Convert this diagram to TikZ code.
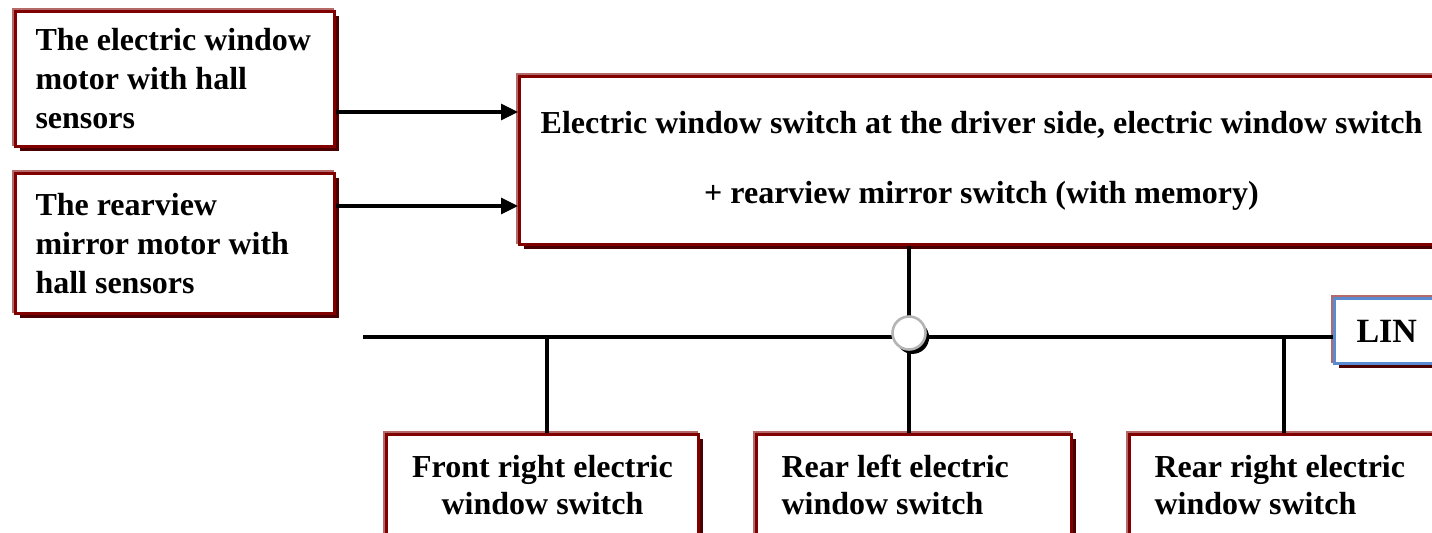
\documentclass[tikz,border=0pt]{standalone}
\usepackage{fontspec}
\setmainfont{Liberation Serif}
\usetikzlibrary{arrows.meta,positioning,calc,shadows}
\definecolor{BoxRed}{HTML}{800000}
\definecolor{EdgeRed}{HTML}{B56A6A}
\definecolor{ShadeRed}{HTML}{4A0000}
\definecolor{LinBlue}{HTML}{5A8AD0}
\definecolor{HubGray}{HTML}{B4B4B4}

\begin{document}
\begin{tikzpicture}[x=0.5pt,y=-0.5pt,
 every node/.style={font=\bfseries\fontsize{16pt}{19.5pt}\selectfont},
 unit/.style={draw=BoxRed,line width=1.5pt,fill=white,inner sep=0pt,anchor=north west,
  general shadow={draw=EdgeRed,fill=none,line width=1.5pt,shadow xshift=-0.9pt,shadow yshift=0.9pt},
  general shadow={fill=ShadeRed,shadow xshift=2pt,shadow yshift=-2pt}},
 wire/.style={line width=1.8pt},
 feed/.style={line width=1.6pt,-{Triangle[length=8.5pt,width=8pt]}},
 hubdot/.style={circle,draw=HubGray,line width=1.3pt,fill=white,minimum size=16.5pt,inner sep=0pt,
  general shadow={fill=black,shadow xshift=1.8pt,shadow yshift=-2.2pt}}]
\useasboundingbox (0,0) rectangle (1432,532);
\clip (0,0) rectangle (1432,532);

% motors on the left
\node[unit,minimum width=159.5pt,minimum height=67.5pt,text width=139.5pt,align=flush left] (hallwin) at (14,10)
 {\mbox{The electric window}\\ \mbox{motor with hall}\\ sensors};
\node[unit,minimum width=159.5pt,minimum height=70pt,text width=139.5pt,align=flush left] (hallmir) at (14,172)
 {The rearview\\ \mbox{mirror motor with}\\ hall sensors};

% driver side switch
\node[unit,minimum width=462pt,minimum height=84pt,align=center] (drvsw) at (518,75)
 {Electric window switch at the driver side, electric window switch\\[15.5pt]
  + rearview mirror switch (with memory)};

% LIN bus end
\node[unit,draw=LinBlue,minimum width=55pt,minimum height=32.5pt,text width=33pt,align=flush left,
 font=\bfseries\fontsize{17pt}{20pt}\selectfont] (lin) at (1333,297) {LIN};

% switches on the bus
\node[unit,minimum width=156pt,minimum height=50.5pt,align=center,
 font=\bfseries\fontsize{16pt}{18.5pt}\selectfont] (frontsw) at (385,433) {Front right electric\\ window switch};
\node[unit,minimum width=157.5pt,minimum height=50.5pt,text width=132.5pt,align=flush left,
 font=\bfseries\fontsize{16pt}{18.5pt}\selectfont] (rearl) at (755,433) {Rear left electric\\ window switch};
\node[unit,minimum width=157.5pt,minimum height=50.5pt,text width=132.5pt,align=flush left,
 font=\bfseries\fontsize{16pt}{18.5pt}\selectfont] (rearr) at (1128,433) {Rear right electric\\ window switch};

\draw[feed] (hallwin.east |- 0,112) -- (drvsw.west |- 0,112);
\draw[feed] (hallmir.east |- 0,206) -- (drvsw.west |- 0,206);

\coordinate (busL) at (363,337);
\coordinate (hubc) at (909,333);
\draw[wire] (busL) -- (busL -| lin.west);
\draw[wire] (hubc |- drvsw.south) -- (hubc) -- (hubc |- rearl.north);
\foreach \tap/\unitname in {547/frontsw,1284/rearr}
 \draw[wire] (\tap,337) -- (\tap,337 |- \unitname.north);
\node[hubdot] (hub) at (hubc) {};
\end{tikzpicture}
\end{document}
